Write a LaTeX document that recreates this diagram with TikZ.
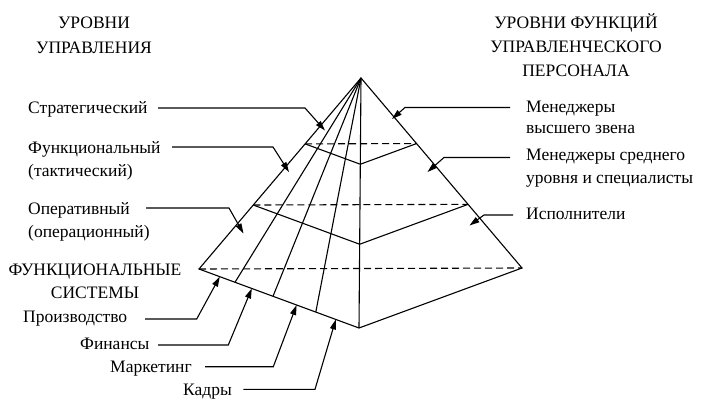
\documentclass[tikz,border=0pt]{standalone}
\usepackage{fontspec}
\setmainfont{Liberation Serif}
\usetikzlibrary{arrows.meta,calc}
\begin{document}
\begin{tikzpicture}[x=1pt,y=-1pt,
  lbl/.style={font=\fontsize{17.5}{21}\selectfont, inner sep=0pt, anchor=base west},
  ttl/.style={font=\fontsize{17.5}{21}\selectfont, inner sep=0pt, anchor=base},
  edge/.style={line width=1.1pt, line join=miter},
  back/.style={line width=1.1pt, dash pattern=on 7pt off 4pt},
  lead/.style={line width=1.1pt, -{Triangle[length=10pt,width=6pt]}}]
\useasboundingbox[fill=white] (0,0) rectangle (724,410);
% pyramid vertices
\coordinate (A) at (361,78);
\coordinate (L) at (199,269);
\coordinate (R) at (522,268);
\coordinate (F) at (359,328);
% levels
\coordinate (L1) at ($(A)!0.345!(L)$);
\coordinate (M1) at ($(A)!0.345!(F)$);
\coordinate (R1) at ($(A)!0.345!(R)$);
\coordinate (L2) at ($(A)!0.665!(L)$);
\coordinate (M2) at ($(A)!0.665!(F)$);
\coordinate (R2) at ($(A)!0.665!(R)$);
% fan points
\coordinate (f1) at ($(L)!0.225!(F)$);
\coordinate (f2) at ($(L)!0.4625!(F)$);
\coordinate (f3) at ($(L)!0.73!(F)$);
% bottom tips
\coordinate (b1) at ($(L)!0.13!(F)$);
\coordinate (b2) at ($(L)!0.33!(F)$);
\coordinate (b3) at ($(L)!0.61!(F)$);
\coordinate (b4) at ($(L)!0.855!(F)$);
% pyramid
\draw[back] (L) -- (R);
\draw[back] (L1) -- (R1);
\draw[back] (L2) -- (R2);
\draw[edge] (L) -- (A) -- (R) -- (F) -- cycle;
\draw[edge] (A) -- (F);
\draw[edge] (L1) -- (M1) -- (R1);
\draw[edge] (L2) -- (M2) -- (R2);
\draw[edge] (A) -- (f1);
\draw[edge] (A) -- (f2);
\draw[edge] (A) -- (f3);
% titles
\node[ttl] (tl1) at (94,28.5) {УРОВНИ};
\node[ttl] (tl2) at (94,53.5) {УПРАВЛЕНИЯ};
\node[ttl] (tr1) at (576,28.5) {УРОВНИ ФУНКЦИЙ};
\node[ttl] (tr2) at (576,52.5) {УПРАВЛЕНЧЕСКОГО};
\node[ttl] (tr3) at (576,76.5) {ПЕРСОНАЛА};
\node[ttl] (fs1) at (95,275.5) {ФУНКЦИОНАЛЬНЫЕ};
\node[ttl] (fs2) at (95,298.5) {СИСТЕМЫ};
% left labels
\node[lbl] (s1) at (28,113) {Стратегический};
\node[lbl] (s2) at (28,153.5) {Функциональный};
\node[lbl] (s2b) at (28,176.5) {(тактический)};
\node[lbl] (s3) at (28,214) {Оперативный};
\node[lbl] (s3b) at (28,237) {(операционный)};
% right labels
\node[lbl] (r1) at (526,112) {Менеджеры};
\node[lbl] (r1b) at (526,133) {высшего звена};
\node[lbl] (r2) at (526,160) {Менеджеры среднего};
\node[lbl] (r2b) at (526,183) {уровня и специалисты};
\node[lbl] (r3) at (526,219.5) {Исполнители};
% bottom labels
\node[lbl] (p1) at (23,322) {Производство};
\node[lbl] (p2) at (80,349) {Финансы};
\node[lbl] (p3) at (110,372.5) {Маркетинг};
\node[lbl] (p4) at (183,395.5) {Кадры};
% leader coordinates
\coordinate (s1a) at (158,108);  \coordinate (s1b) at (305,108);  \coordinate (s1t) at (325,130.5);
\coordinate (s2a) at (172,147);  \coordinate (s2b') at (273,147); \coordinate (s2t) at (289,172);
\coordinate (s3a) at (146,208);  \coordinate (s3b') at (229,208); \coordinate (s3t) at (243.5,233.5);
\coordinate (r1a) at (510,107.5); \coordinate (r1b') at (405,107.5); \coordinate (r1t) at (392,119);
\coordinate (r2a) at (510,157.5); \coordinate (r2b') at (444,157.5); \coordinate (r2t) at (427.5,172);
\coordinate (r3a) at (513,215);  \coordinate (r3b') at (484,215);  \coordinate (r3t) at (469.5,225.5);
\coordinate (p1a) at (145,319);  \coordinate (p1b) at (196.7,319);
\coordinate (p2a) at (158,345);  \coordinate (p2b) at (228.3,345);
\coordinate (p3a) at (205,366.7); \coordinate (p3b) at (273.3,366.7);
\coordinate (p4a) at (243.3,389.3); \coordinate (p4b) at (315,389.3);
% leaders
\draw[lead] (s1a) -- (s1b) -- (s1t);
\draw[lead] (s2a) -- (s2b') -- (s2t);
\draw[lead] (s3a) -- (s3b') -- (s3t);
\draw[lead] (r1a) -- (r1b') -- (r1t);
\draw[lead] (r2a) -- (r2b') -- (r2t);
\draw[lead] (r3a) -- (r3b') -- (r3t);
\draw[lead] (p1a) -- (p1b) -- (b1);
\draw[lead] (p2a) -- (p2b) -- (b2);
\draw[lead] (p3a) -- (p3b) -- (b3);
\draw[lead] (p4a) -- (p4b) -- (b4);
\end{tikzpicture}
\end{document}
